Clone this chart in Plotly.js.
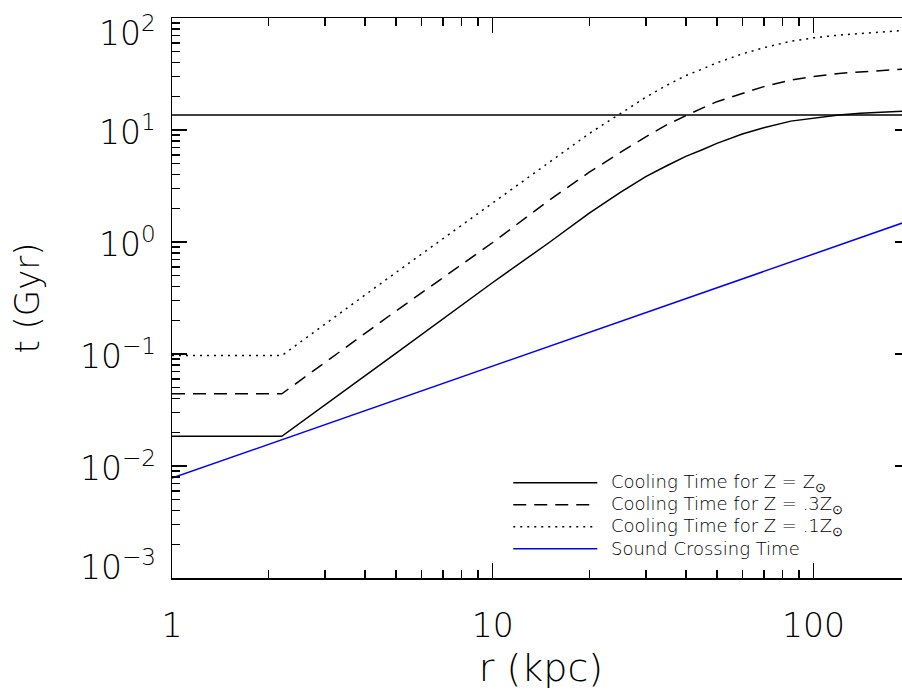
<!DOCTYPE html>
<html>
<head>
<meta charset="utf-8">
<script src="https://cdn.plot.ly/plotly-3.0.1.min.js"></script>
<style>
  html, body { margin: 0; padding: 0; overflow: hidden; background: #fff; }
  #chart { width: 920px; height: 690px; }
</style>
</head>
<body>
<div id="chart"></div>
<script>
// Radius grid (kpc) shared by the cooling-time curves
const radius = [1, 2.2, 5, 10, 15, 20, 25, 30, 35, 40, 45, 50, 60, 70, 85, 100, 120, 140, 165, 190, 200];

// Cooling time (Gyr) for three metallicities
const tCoolSolar = [0.0184, 0.0184, 0.102, 0.435, 0.99, 1.81, 2.78, 3.83, 4.82, 5.81, 6.67, 7.60, 9.20, 10.47, 12.0, 12.8, 13.6, 14.1, 14.5, 14.7, 14.8];
const tCool03 = [0.0441, 0.0441, 0.243, 0.99, 2.36, 4.2, 6.3, 8.7, 11.2, 13.5, 15.7, 17.9, 21.2, 24.4, 27.9, 30.0, 32.0, 33.1, 34.2, 35.1, 35.3];
const tCool01 = [0.0968, 0.0968, 0.536, 2.24, 5.13, 9.3, 14.0, 19.6, 25.2, 30.6, 35.0, 39.8, 47.8, 54.3, 62.0, 66.5, 70.4, 73.0, 75.3, 77.3, 77.9];

// Sound crossing time (Gyr) — a straight power law, end points
const rSound = [1, 200];
const tSound = [0.0078, 1.56];

// Age of the Universe (Gyr), drawn as a horizontal reference line
const rHubble = [1, 200];
const tHubble = [13.6, 13.6];

// Axis tick values and labels
const xTickVals = [1, 10, 100];
const xTickText = ['1', '10', '100'];
const yTickExp = [2, 1, 0, -1, -2, -3];
const yTickText = ['10<sup>2</sup>', '10<sup>1</sup>', '10<sup>0</sup>', '10<sup>\u22121</sup>', '10<sup>\u22122</sup>', '10<sup>\u22123</sup>'];

// Legend entries
const legendLabels = [
  'Cooling Time for Z = Z<sub>\u2299</sub>',
  'Cooling Time for Z = .3Z<sub>\u2299</sub>',
  'Cooling Time for Z = .1Z<sub>\u2299</sub>',
  'Sound Crossing Time'
];

const FONT = 'DejaVu Sans';
const LW = 1.5;

function minorTicks(loExp, hiExp) {
  const out = [];
  for (let e = loExp; e < hiExp; e++) {
    for (let m = 2; m <= 9; m++) out.push(m * Math.pow(10, e));
  }
  return out;
}

const styles = [
  { color: '#000000', dash: 'solid' },
  { color: '#000000', dash: '13px,8px' },
  { color: '#000000', dash: '2px,5px' },
  { color: '#0000ff', dash: 'solid' }
];

const traces = [
  { x: radius, y: tCoolSolar, mode: 'lines', line: { color: styles[0].color, width: LW, dash: styles[0].dash }, showlegend: false },
  { x: radius, y: tCool03, mode: 'lines', line: { color: styles[1].color, width: LW, dash: styles[1].dash }, showlegend: false },
  { x: radius, y: tCool01, mode: 'lines', line: { color: styles[2].color, width: LW, dash: styles[2].dash }, showlegend: false },
  { x: rSound, y: tSound, mode: 'lines', line: { color: styles[3].color, width: LW, dash: styles[3].dash }, showlegend: false },
  { x: rHubble, y: tHubble, mode: 'lines', line: { color: '#000000', width: LW }, showlegend: false }
];

const annotations = [];
yTickExp.forEach((e, i) => {
  let shift = 0;
  if (i === 0) shift = -13;
  if (i === yTickExp.length - 1) shift = 13;
  annotations.push({
    xref: 'paper', yref: 'y', x: 0, y: e,
    xanchor: 'right', yanchor: 'middle', xshift: -14, yshift: shift,
    text: yTickText[i], showarrow: false,
    font: { family: FONT, size: 33, color: '#000', weight: 200 }
  });
});

// Legend, drawn in the lower right of the plot area
const legX0 = 0.4624, legX1 = 0.5763, legTextX = 0.5920;
const legY = [0.1702, 0.1309, 0.0916, 0.0523];
const shapes = [];
legendLabels.forEach((lab, i) => {
  shapes.push({
    type: 'line', xref: 'paper', yref: 'paper',
    x0: legX0, x1: legX1, y0: legY[i], y1: legY[i],
    line: { color: styles[i].color, width: LW, dash: styles[i].dash }
  });
  annotations.push({
    xref: 'paper', yref: 'paper', x: legTextX, y: legY[i],
    xanchor: 'left', yanchor: 'middle', text: lab, showarrow: false,
    font: { family: FONT, size: 18, color: '#000', weight: 200 }
  });
});

const axisCommon = {
  type: 'log',
  showline: true, linecolor: '#000', linewidth: LW,
  mirror: 'ticks',
  ticks: 'inside', ticklen: 15, tickwidth: LW, tickcolor: '#000',
  showgrid: false, zeroline: false,
  tickfont: { family: FONT, size: 33, color: '#000', weight: 200 }
};

const layout = {
  width: 920, height: 690,
  margin: { l: 172, r: 10, t: 18, b: 112 },
  paper_bgcolor: '#fff', plot_bgcolor: '#fff',
  showlegend: false,
  font: { family: FONT, color: '#000', weight: 200 },
  xaxis: Object.assign({}, axisCommon, {
    range: [0, Math.log10(200)],
    tickmode: 'array', tickvals: xTickVals, ticktext: xTickText,
    ticklabelstandoff: 18,
    minor: { tickmode: 'array', tickvals: minorTicks(0, 3).filter(v => v <= 200), ticks: 'inside', ticklen: 8, tickwidth: LW, tickcolor: '#000', showgrid: false },
    title: { text: 'r (kpc)', font: { family: FONT, size: 38, color: '#000', weight: 200 }, standoff: 17 }
  }),
  yaxis: Object.assign({}, axisCommon, {
    range: [-3, 2],
    tickmode: 'array', tickvals: yTickExp.map(e => Math.pow(10, e)),
    showticklabels: false,
    minor: { tickmode: 'array', tickvals: minorTicks(-3, 2), ticks: 'inside', ticklen: 8, tickwidth: LW, tickcolor: '#000', showgrid: false },
    title: { text: 't (Gyr)', font: { family: FONT, size: 34, color: '#000', weight: 200 }, standoff: 120 }
  }),
  annotations: annotations,
  shapes: shapes
};

Plotly.newPlot('chart', traces, layout, { staticPlot: true, displayModeBar: false });
</script>
</body>
</html>
